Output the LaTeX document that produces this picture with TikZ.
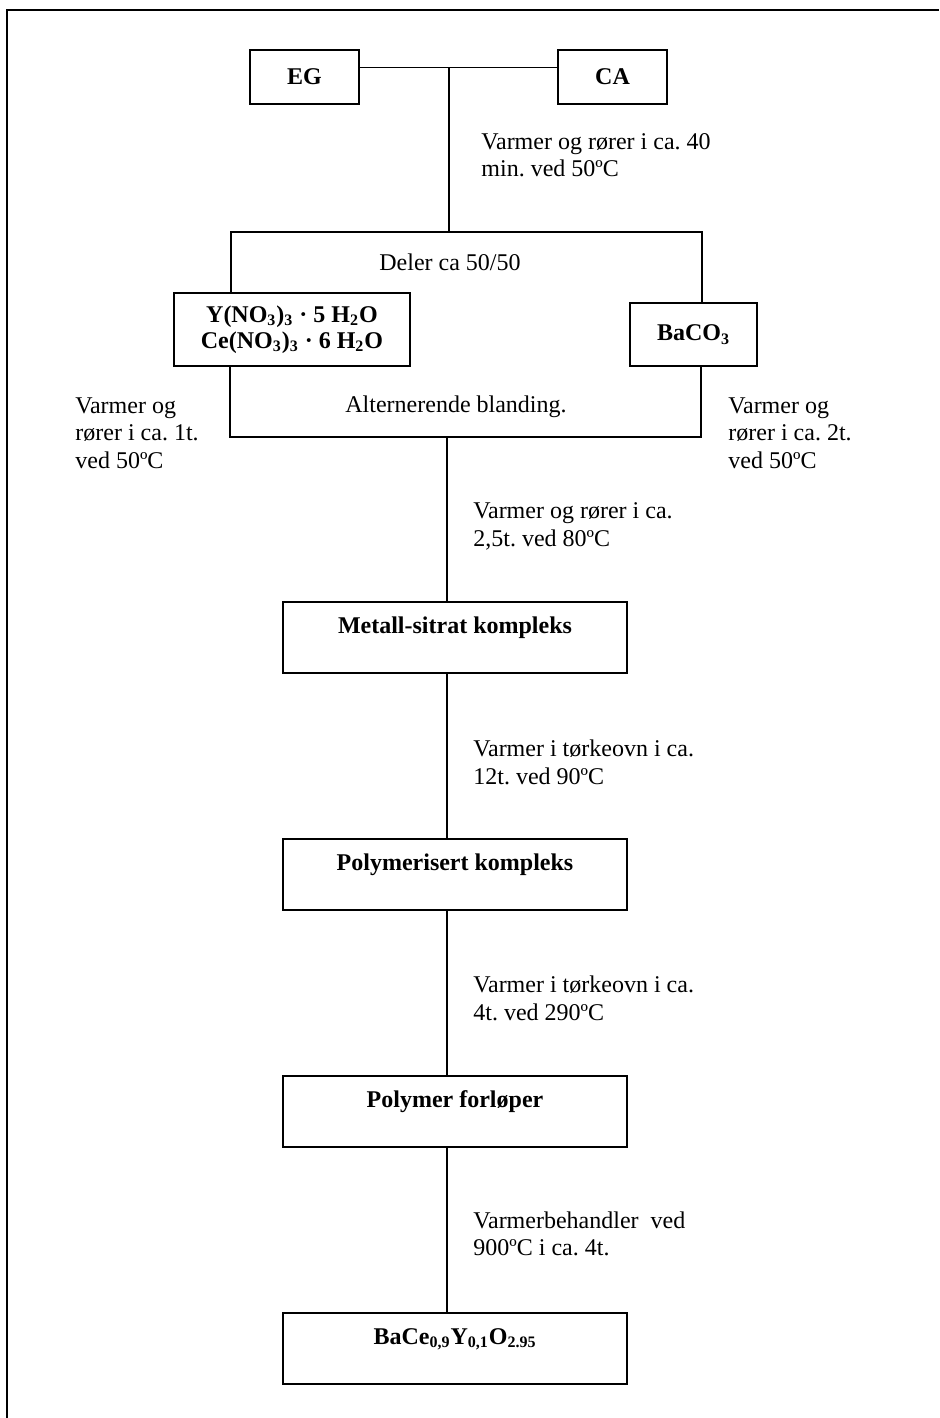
\documentclass[tikz,border=0pt]{standalone}
\usepackage{fontspec}
\setmainfont{Liberation Serif}
\usetikzlibrary{positioning}
\tikzset{
  rawbox/.style={rectangle, draw=black, line width=1pt, text centered, font=\bfseries\fontsize{12}{13}\selectfont},
  stepbox/.style={rawbox, minimum width=172pt, minimum height=35.5pt, inner ysep=4pt, text height=11.5pt, text depth=16pt},
  note/.style={anchor=west, align=left, inner sep=0pt, font=\fontsize{12}{13.8}\selectfont},
  caption/.style={inner sep=0pt, font=\fontsize{12}{13.8}\selectfont},
  link/.style={line width=0.6pt},
  node distance=82pt
}
\frenchspacing

\begin{document}
\begin{tikzpicture}[x=0.5pt,y=-0.5pt]
  \useasboundingbox (0,0) rectangle (939,1418);
  \draw[line width=1pt] (7,1418) -- (7,10) -- (939,10);
  % starting liquids
  \node[rawbox, minimum width=54.5pt, minimum height=27pt] (eg) at (304.5,77) {EG};
  \node[rawbox, minimum width=54.5pt, minimum height=27pt] (ca) at (612.5,77) {CA};
  \coordinate (join) at (449,68);
  \coordinate (sl) at (231,232);
  \coordinate (sr) at (702,232);
  \draw[link, line width=0.5pt] (eg.east |- join) -- (ca.west |- join);
  \draw[link] (join) -- (join |- sl);
  \node[note] (heat40) at (481,155) {Varmer og rører i ca. 40\\min. ved 50ºC};
  % split in two
  \node[caption] (share) at (450,262) {Deler ca 50/50};
  \node[rawbox, minimum width=118pt, minimum height=36.5pt, align=center] (nitrates) at (292,329.5)
    {Y(NO\textsubscript{3})\textsubscript{3} · 5 H\textsubscript{2}O\\Ce(NO\textsubscript{3})\textsubscript{3} · 6 H\textsubscript{2}O};
  \node[rawbox, minimum width=63.5pt, minimum height=31.5pt] (baco) at (693.5,334.5) {BaCO\textsubscript{3}};
  \draw[link] (sl |- nitrates.north) -- (sl) -- (sr) -- (sr |- baco.north);
  % mixing
  \coordinate (ml) at (230,437);
  \coordinate (mr) at (701,437);
  \coordinate (mix) at (447,437);
  \draw[link] (nitrates.south -| ml) -- (ml) -- (mr) -- (baco.south -| mr);
  \node[caption] (alt) at (456,407) {Alternerende blanding.};
  \node[note] (heat1) at (75,433) {Varmer og\\rører i ca. 1t.\\ved 50ºC};
  \node[note] (heat2) at (728,433) {Varmer og\\rører i ca. 2t.\\ved 50ºC};
  % main chain
  \node[stepbox] (metall) at (455,637.5) {Metall-sitrat kompleks};
  \node[stepbox, below=of metall] (poly) {Polymerisert kompleks};
  \node[stepbox, below=of poly] (forl) {Polymer forløper};
  \node[stepbox, below=of forl] (final) {BaCe\textsubscript{0,9}Y\textsubscript{0,1}O\textsubscript{2.95}};
  \draw[link] (mix) -- (mix |- metall.north);
  \foreach \a/\b in {metall/poly, poly/forl, forl/final}
    \draw[link] (\a.south -| mix) -- (\b.north -| mix);
  \node[note] (heat80) at (473,526.5) {Varmer og rører i ca.\\2,5t. ved 80ºC};
  \node[note] (heat90) at (473,762.5) {Varmer i tørkeovn i ca.\\12t. ved 90ºC};
  \node[note] (heat290) at (473,998.5) {Varmer i tørkeovn i ca.\\4t. ved 290ºC};
  \node[note] (heat900) at (473,1234) {Varmerbehandler\ \ ved\\900ºC i ca. 4t.};
\end{tikzpicture}
\end{document}
